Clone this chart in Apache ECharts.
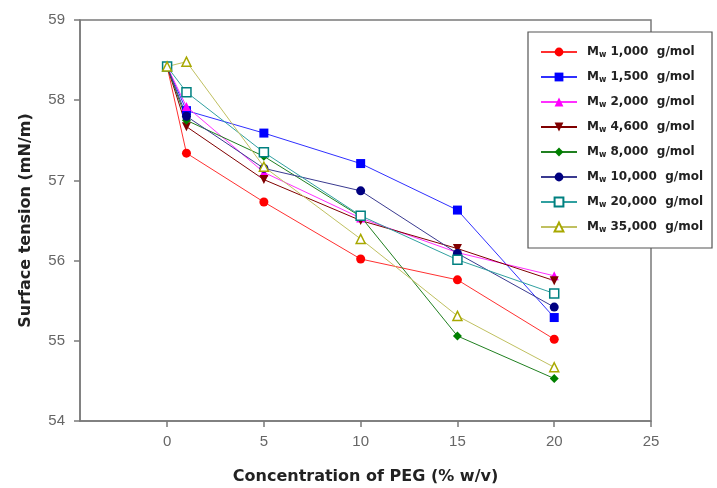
<!DOCTYPE html>
<html>
<head>
<meta charset="utf-8">
<script src="https://cdn.jsdelivr.net/npm/echarts@6/dist/echarts.min.js"></script>
<style>html,body{margin:0;padding:0;background:#fff}#c{width:717px;height:488px}</style>
</head>
<body>
<div id="c"></div>
<script>
// Concentration of PEG (% w/v)
var conc = [0, 1, 5, 10, 15, 20];
var xTicks = [0, 5, 10, 15, 20, 25];
var yTicks = [54, 55, 56, 57, 58, 59];
// Surface tension (mN/m) per molecular weight
var labels = ['1,000', '1,500', '2,000', '4,600', '8,000', '10,000', '20,000', '35,000'];
var mw1000  = [58.42, 57.34, 56.73, 56.02, 55.76, 55.02];
var mw1500  = [58.42, 57.87, 57.59, 57.21, 56.63, 55.29];
var mw2000  = [58.42, 57.92, 57.10, 56.53, 56.10, 55.81];
var mw4600  = [58.42, 57.67, 57.01, 56.50, 56.15, 55.75];
var mw8000  = [58.42, 57.75, 57.30, 56.55, 55.06, 54.53];
var mw10000 = [58.42, 57.80, 57.15, 56.87, 56.09, 55.42];
var mw20000 = [58.42, 58.10, 57.35, 56.56, 56.01, 55.59];
var mw35000 = [58.42, 58.48, 57.17, 56.27, 55.31, 54.67];

var values = [mw1000, mw1500, mw2000, mw4600, mw8000, mw10000, mw20000, mw35000];
var styles = [
  {sym: 'circle', c: '#ff0000', lc: '#ff3030', fill: '#ff0000'},
  {sym: 'rect', c: '#0000ff', lc: '#3030ff', fill: '#0000ff'},
  {sym: 'triangle', c: '#ff00ff', lc: '#ff30ff', fill: '#ff00ff'},
  {sym: 'path://M0,0 L10,0 L5,10 Z', c: '#800000', lc: '#800000', fill: '#800000'},
  {sym: 'diamond', c: '#008000', lc: '#208020', fill: '#008000'},
  {sym: 'circle', c: '#000080', lc: '#3a3a90', fill: '#000080'},
  {sym: 'rect', c: '#008080', lc: '#30a0a0', fill: '#ffffff'},
  {sym: 'triangle', c: '#a8a800', lc: '#c0c060', fill: '#ffffff'}
];

var series = values.map(function (v, i) {
  var s = styles[i];
  return {
    name: 'Mw ' + labels[i],
    type: 'line',
    data: conc.map(function (x, j) { return [x, v[j]]; }),
    symbol: s.sym,
    symbolSize: 9,
    showSymbol: true,
    lineStyle: {color: s.lc, width: 1},
    itemStyle: {color: s.fill, borderColor: s.c, borderWidth: s.fill === '#ffffff' ? 1.5 : 0},
    emphasis: {disabled: true},
    animation: false
  };
});

var chart = echarts.init(document.getElementById('c'), null, {renderer: 'canvas'});
chart.setOption({
  backgroundColor: '#ffffff',
  animation: false,
  grid: {left: 80, right: 66, top: 20, bottom: 67, outerBoundsMode: 'none', containLabel: false,
    show: true, borderColor: '#7a7a7a', borderWidth: 1.5, backgroundColor: 'transparent'},
  xAxis: {
    type: 'value', min: -4.5, max: 25,
    name: 'Concentration of PEG (% w/v)', nameLocation: 'middle', nameGap: 48,
    nameTextStyle: {fontFamily: 'DejaVu Sans', fontWeight: 'bold', fontSize: 16, color: '#222'},
    axisLine: {show: true, onZero: false, lineStyle: {color: '#7a7a7a', width: 1.5}},
    axisTick: {show: true, customValues: xTicks, length: 6, inside: false, lineStyle: {color: '#7a7a7a', width: 1.5}},
    axisLabel: {customValues: xTicks, margin: 13, fontFamily: 'Liberation Sans', fontSize: 15, color: '#666'},
    splitLine: {show: false}
  },
  yAxis: {
    type: 'value', min: 54, max: 59, interval: 1,
    name: 'Surface tension (mN/m)', nameLocation: 'middle', nameGap: 46,
    nameTextStyle: {fontFamily: 'DejaVu Sans', fontWeight: 'bold', fontSize: 16, color: '#222'},
    axisLine: {show: true, onZero: false, lineStyle: {color: '#7a7a7a', width: 1.5}},
    axisTick: {show: true, length: 6, lineStyle: {color: '#7a7a7a', width: 1.5}},
    axisLabel: {margin: 15, fontFamily: 'Liberation Sans', fontSize: 15, color: '#666',
      formatter: function (v) { return yTicks.indexOf(v) >= 0 ? String(v) : ''; }},
    splitLine: {show: false}
  },
  legend: {
    orient: 'vertical', left: 528, top: 32,
    padding: [13, 9, 14, 12],
    itemWidth: 36, itemHeight: 11, itemGap: 11,
    backgroundColor: '#ffffff', borderColor: '#555', borderWidth: 1.2,
    z: 10,
    formatter: function (name) {
      var v = name.replace('Mw ', '');
      return '{m|M}{w|w}{t| ' + v + '  g/mol}';
    },
    textStyle: {
      fontFamily: 'DejaVu Sans', fontWeight: 'bold', fontSize: 12, color: '#222',
      rich: {
        m: {fontFamily: 'DejaVu Sans', fontWeight: 'bold', fontSize: 12, color: '#222', lineHeight: 14, padding: [0, 0, 0, 5]},
        w: {fontFamily: 'DejaVu Sans', fontWeight: 'bold', fontSize: 8, color: '#222', lineHeight: 14, verticalAlign: 'bottom', padding: [6, 0, 0, 0]},
        t: {fontFamily: 'DejaVu Sans', fontWeight: 'bold', fontSize: 12, color: '#222', lineHeight: 14}
      }
    },
    data: series.map(function (s) { return s.name; })
  },
  series: series
});
</script>
</body>
</html>
